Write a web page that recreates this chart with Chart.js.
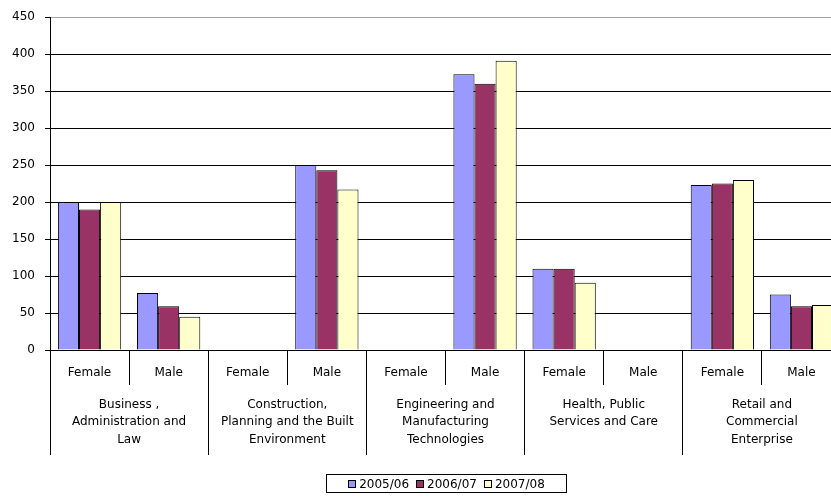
<!DOCTYPE html>
<html>
<head>
<meta charset="utf-8">
<script src="https://cdn.jsdelivr.net/npm/chart.js@4"></script>
<style>
  body { margin: 0; background: #fff; overflow: hidden; }
  #wrap { position: relative; width: 845px; height: 498px; }
  #legend {
    position: absolute; left: 326px; top: 474px; width: 239px; height: 17px;
    border: 1px solid #000; display: flex; align-items: center; justify-content: center;
    font: 12px "DejaVu Sans"; color: #000; gap: 7px; box-sizing: content-box;
  }
  #legend span.sw { display: inline-block; width: 6px; height: 6px; border: 1px solid #000; margin-right: 3px; vertical-align: middle; }
</style>
</head>
<body>
<div id="wrap">
  <canvas id="trainChart"></canvas>
  <div id="legend"></div>
</div>
<script>
// categories: sex within each sector
const genders = ["Female", "Male", "Female", "Male", "Female", "Male", "Female", "Male", "Female", "Male"];

// sector names, one per pair of bars
const sectors = [
    ["Business ,", "Administration and", "Law"],
    ["Construction,", "Planning and the Built", "Environment"],
    ["Engineering and", "Manufacturing", "Technologies"],
    ["Health, Public", "Services and Care"],
    ["Retail and", "Commercial", "Enterprise"]
];

const years = ["2005/06", "2006/07", "2007/08"];

// values (null = no bar)
const y0506 = [200, 77, null, 250, null, 373, 110, null, 223, 75];
const y0607 = [190, 59, null, 243, null, 360, 110, null, 225, 59];
const y0708 = [200, 45, null, 217, null, 391, 91, null, 230, 61];

const yTicks = [0, 50, 100, 150, 200, 250, 300, 350, 400, 450];

const colors = ['#9999FF', '#993366', '#FFFFCC'];

const font = { family: 'DejaVu Sans', size: 12 };

const ctx = document.getElementById('trainChart').getContext('2d');
const chart = new Chart(ctx, {
    type: 'bar',
    data: {
        labels: genders,
        datasets: [y0506, y0607, y0708].map((d, i) => ({
            label: years[i],
            data: d,
            backgroundColor: colors[i],
            borderColor: '#000',
            borderWidth: 1,
            categoryPercentage: 0.8,
            barPercentage: 1.0
        }))
    },
    options: {
        responsive: true,
        maintainAspectRatio: false,
        animation: false,
        layout: { padding: { top: 13, right: 4, bottom: 8, left: 0 } },
        plugins: {
            legend: { display: false },
            tooltip: { enabled: false }
        },
        scales: {
            x: {
                position: 'bottom',
                grid: { offset: true, drawOnChartArea: false, drawTicks: true, tickLength: 35, color: '#000' },
                border: { display: true, color: '#000' },
                ticks: { color: '#000', font: font, padding: -19, autoSkip: false, maxRotation: 0 },
                afterFit: s => { s.height = 35; }
            },
            x2: {
                type: 'category',
                position: 'bottom',
                labels: sectors,
                grid: { offset: true, drawOnChartArea: false, drawTicks: true, tickLength: 70, color: '#000' },
                border: { display: false },
                ticks: { color: '#000', font: { family: 'DejaVu Sans', size: 12, lineHeight: 1.45 }, padding: -59, autoSkip: false, maxRotation: 0 },
                afterFit: s => { s.height = 105; }
            },
            y: {
                min: 0,
                max: 450,
                afterBuildTicks: s => { s.ticks = yTicks.map(v => ({ value: v })); },
                grid: {
                    color: c => (c.tick && c.tick.value === 450) ? '#a0a0a0' : '#000',
                    tickLength: 5,
                    tickColor: '#000'
                },
                border: { display: true, color: '#000' },
                ticks: { color: '#000', font: font, padding: 10 },
                afterFit: s => { s.width = 50; }
            }
        }
    }
});

// legend box built from the series names and colours
const legend = document.getElementById('legend');
years.forEach((y, i) => {
    const item = document.createElement('span');
    item.innerHTML = '<span class="sw" style="background:' + colors[i] + '"></span>' + y;
    legend.appendChild(item);
});
</script>
</body>
</html>
